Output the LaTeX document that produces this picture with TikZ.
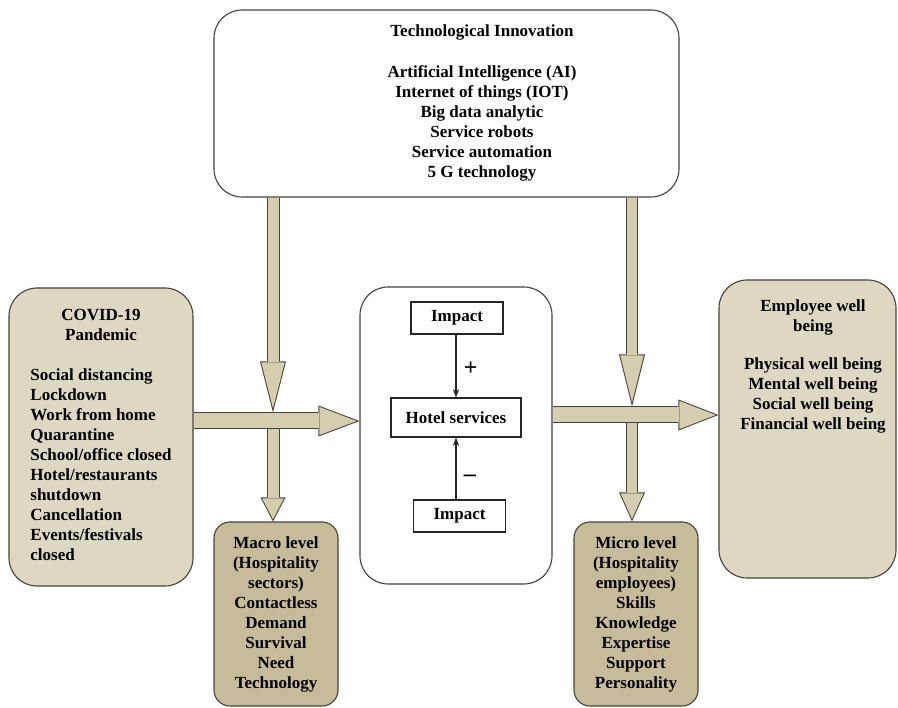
\documentclass[tikz,border=0pt]{standalone}
\usepackage{fontspec}
\setmainfont{Liberation Serif}
\usepackage{tikz}
\usetikzlibrary{arrows.meta, positioning, calc}
\definecolor{edgeGray}{HTML}{45423B}
\definecolor{covidBeige}{HTML}{DED8C3}
\definecolor{arrowTan}{HTML}{D4CDAE}
\definecolor{levelTan}{HTML}{C7BC9A}

% hollow block arrow: start, end, shaft width, head length, head width
\newcommand{\blockarrow}[5]{%
  \pgfmathsetmacro\halfang{atan((#5/2)/#4)}%
  \pgfmathsetmacro\tipoff{1/sin(\halfang)}%
  \pgfmathsetmacro\innerlen{#4-\tipoff-1}%
  \pgfmathsetmacro\innerwid{2*\innerlen*tan(\halfang)}%
  \pgfmathsetmacro\innershaft{#3-2}%
  \draw[edgeGray, line width=#3pt, -{Triangle[length=#4pt, width=#5pt, line width=0pt]},
        shorten <=0.6pt] #1 -- #2;
  \draw[arrowTan, line width=\innershaft pt,
        -{Triangle[length=\innerlen pt, width=\innerwid pt, line width=0pt]},
        shorten <=0.6pt, shorten >=\tipoff pt] #1 -- #2;
}

\begin{document}
\begin{tikzpicture}[
  x=1pt, y=-1pt,
  >=Stealth,
  font=\bfseries\fontsize{17}{20}\selectfont,
  whitebox/.style={draw=edgeGray, line width=1.1pt, rounded corners=28pt, fill=white, inner sep=0pt},
  lightbox/.style={draw=edgeGray, line width=1.1pt, rounded corners=28pt, fill=covidBeige,
                   align=center, inner sep=0pt},
  levelbox/.style={draw=edgeGray, line width=1.1pt, rounded corners=16pt, fill=levelTan,
                   align=center, inner sep=0pt, minimum width=124pt, minimum height=184pt},
  impactbox/.style={draw=black!85, line width=1.1pt, inner sep=0pt,
                    minimum width=92pt, minimum height=32pt},
  thinarrow/.style={->, line width=1.2pt, draw=black!85},
  signlabel/.style={right=4pt, font=\bfseries\fontsize{24}{24}\selectfont}
]
\useasboundingbox (0,0) rectangle (898,708);

% boxes
\node[whitebox, minimum width=465pt, minimum height=187pt] (tech) at (446.5,103.5) {};
\node[align=center] (techtext) at (482,103)
  {Technological Innovation\\[21pt]
   Artificial Intelligence (AI)\\ Internet of things (IOT)\\ Big data analytic\\
   Service robots\\ Service automation\\ 5 G technology};

\node[lightbox, minimum width=184pt, minimum height=298pt] (covid) at (101,437)
  {\begin{tabular}{@{}l@{}}
   \multicolumn{1}{@{}c@{}}{COVID-19}\\ \multicolumn{1}{@{}c@{}}{Pandemic}\\[20pt]
   Social distancing\\ Lockdown\\ Work from home\\ Quarantine\\ School/office closed\\
   Hotel/restaurants\\ shutdown\\ Cancellation\\ Events/festivals\\ closed
   \end{tabular}};

\node[lightbox, minimum width=177pt, minimum height=298pt] (wellbeing) at (807.5,429) {};
\node[align=center] (wellbeingtext) at (813,366)
  {Employee well\\ being\\[18pt]
   Physical well being\\ Mental well being\\ Social well being\\ Financial well being};

\node[whitebox, minimum width=192pt, minimum height=297pt] (hotelframe) at (456,435.5) {};
\node[impactbox] (posimpact) at (457,318) {Impact};
\node[impactbox, minimum width=130pt, minimum height=39pt] (hotel) at (456,417.5) {Hotel services};
\node[impactbox] (negimpact) at (459.5,516) {Impact};

\node[levelbox] (macro) at (276,614)
  {Macro level\\ (Hospitality\\ sectors)\\ Contactless\\ Demand\\ Survival\\ Need\\ Technology};
\node[levelbox] (micro) at (636,614)
  {Micro level\\ (Hospitality\\ employees)\\ Skills\\ Knowledge\\ Expertise\\ Support\\ Personality};

% impacts on hotel services
\draw[thinarrow] (hotel.north |- posimpact.south) -- node[signlabel, pos=0.55] {+} (hotel.north);
\draw[thinarrow] (hotel.south |- negimpact.north) -- node[signlabel, pos=0.35] {--} (hotel.south);

% block arrows
\coordinate (leftcross) at (273,421);
\coordinate (rightcross) at (632,415);

\blockarrow{(leftcross)}{(leftcross |- macro.north)}{13}{24}{25}
\blockarrow{(rightcross)}{(rightcross |- micro.north)}{12}{29}{26}
\blockarrow{(covid.east |- leftcross)}{(hotelframe.west |- leftcross)}{17}{41}{31}
\blockarrow{(hotelframe.east |- rightcross)}{(wellbeing.west |- rightcross)}{17}{40}{31}
\blockarrow{(tech.south -| leftcross)}{($(leftcross)+(0,-8.5)$)}{13}{51}{26}
\blockarrow{(tech.south -| rightcross)}{($(rightcross)+(0,-8.5)$)}{12}{52}{26}

\end{tikzpicture}
\end{document}
